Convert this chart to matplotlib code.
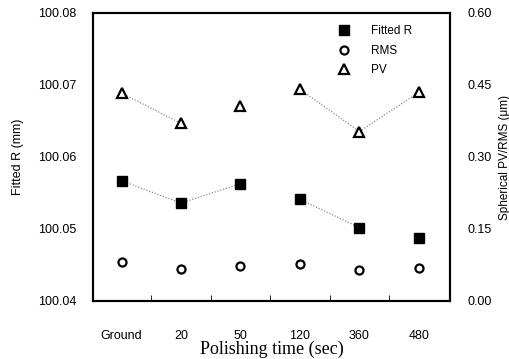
import numpy as np
import matplotlib
matplotlib.use("Agg")
from matplotlib import pyplot as plt

## Data ##
times = ['Ground', '20', '50', '120', '360', '480']
fitted_r = [100.0567, 100.0536, 100.0563, 100.0541, 100.0502, 100.0487]   # mm
rms = [0.081, 0.067, 0.072, 0.077, 0.065, 0.069]                          # um
pv = [0.433, 0.370, 0.407, 0.441, 0.353, 0.435]                           # um
# which neighbouring points are joined by the dotted guide lines
r_links = [(0, 1), (1, 2), (3, 4)]
pv_links = [(0, 1), (3, 4), (4, 5)]

plt.rcParams['font.family'] = ['Liberation Sans', 'DejaVu Sans']

fig = plt.figure(figsize=(5.10, 3.59), dpi=100)
ax = fig.add_axes([0.1824, 0.1616, 0.6996, 0.8022])
ax2 = ax.twinx()

x = np.arange(len(times))

## guide lines ##
for a, b in r_links:
    ax.plot(x[[a, b]], [fitted_r[a], fitted_r[b]], ls=':', lw=0.8, color='0.45', zorder=1)
for a, b in pv_links:
    ax2.plot(x[[a, b]], [pv[a], pv[b]], ls=':', lw=0.8, color='0.45', zorder=1)

## markers ##
h1, = ax.plot(x, fitted_r, ls='none', marker='s', ms=7.2, mfc='black', mec='black', label='Fitted R')
h2, = ax2.plot(x, rms, ls='none', marker='o', ms=5.8, mfc='white', mec='black', mew=1.6, label='RMS')
h3, = ax2.plot(x, pv, ls='none', marker='^', ms=6.5, mfc='white', mec='black', mew=1.6, label='PV')

ax.set_xlim(-0.48, 5.52)
ax.set_ylim(100.04, 100.08)
ax.set_yticks([100.04, 100.05, 100.06, 100.07, 100.08])
ax.set_yticklabels(['100.04', '100.05', '100.06', '100.07', '100.08'])
ax2.set_ylim(0, 0.6)
ax2.set_yticks([0, 0.15, 0.30, 0.45, 0.60])
ax2.set_yticklabels(['0.00', '0.15', '0.30', '0.45', '0.60'])

# category labels at points, tick marks between them
ax.set_xticks(x)
ax.set_xticklabels(times)
ax.set_xticks(x[:-1] + 0.5, minor=True)
ax.tick_params(axis='x', which='major', length=0, pad=21, labelsize=9)
ax.tick_params(axis='x', which='minor', direction='in', length=4, width=0.6)
ax.tick_params(axis='y', length=0, pad=12, labelsize=9)
ax2.tick_params(axis='y', length=0, pad=13, labelsize=9)

for sp in ax.spines.values():
    sp.set_linewidth(1.5)
for sp in ax2.spines.values():
    sp.set_linewidth(1.5)

ax.set_xlabel('Polishing time (sec)', family=['Liberation Serif', 'DejaVu Serif'], fontsize=13, labelpad=-1)
ax.set_ylabel('Fitted R (mm)', fontsize=9, labelpad=10)
ax2.set_ylabel('Spherical PV/RMS (\u03bcm)', fontsize=8.5, labelpad=5)

ax.legend(handles=[h1, h2, h3], loc='upper right', bbox_to_anchor=(0.925, 0.995), frameon=False,
          fontsize=8.5, handletextpad=1.8, labelspacing=0.65, handlelength=1.0)

fig.savefig('out.png', dpi=100)
